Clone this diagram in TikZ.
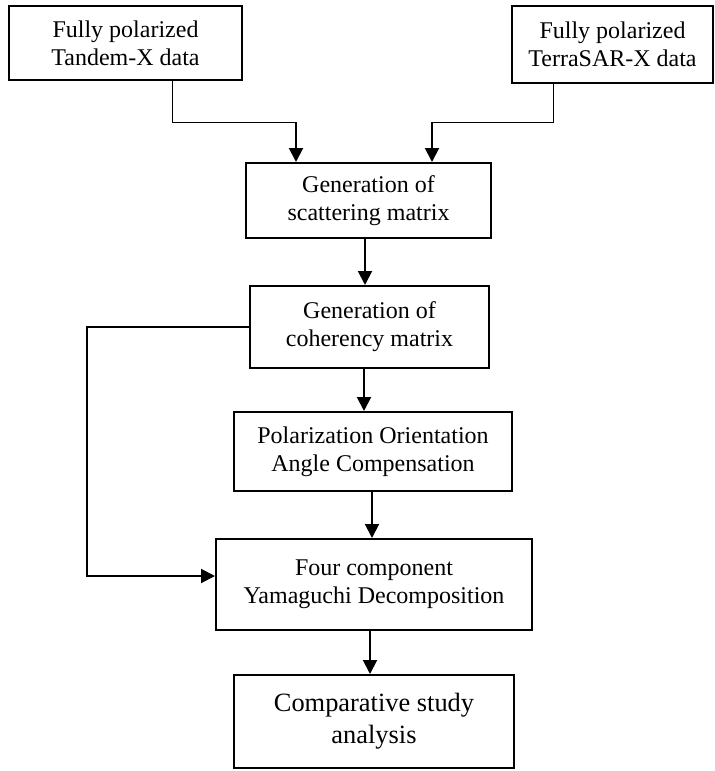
\documentclass[tikz,border=0pt]{standalone}
\usepackage{fontspec}
\setmainfont{Liberation Serif}
\usetikzlibrary{arrows.meta}
\tikzset{
  stepbox/.style={draw,line width=1pt,align=center,inner sep=2pt,
    font=\fontsize{12}{14}\selectfont},
  bigbox/.style={stepbox,font=\fontsize{13.2}{16}\selectfont},
  arr/.style={line width=1pt,-{Triangle[width=7pt,length=7pt]}},
  thinline/.style={line width=0.5pt}
}
\begin{document}
\begin{tikzpicture}[x=0.5pt,y=-0.5pt]
 \useasboundingbox (0,0) rectangle (715,771);
 % boxes
 \node[stepbox,minimum width=116.5pt,minimum height=37pt] (tdx) at (125.5,43) {Fully polarized\\Tandem-X data};
 \node[stepbox,minimum width=100.5pt,minimum height=38.5pt] (tsx) at (612.5,44.5) {Fully polarized\\TerraSAR-X data};
 \node[stepbox,minimum width=122.5pt,minimum height=37.5pt] (scat) at (368.5,200.5) {Generation of\\scattering matrix};
 \node[stepbox,minimum width=119.5pt,minimum height=41pt] (coh) at (369.5,327) {Generation of\\coherency matrix};
 \node[stepbox,minimum width=139pt,minimum height=39.5pt] (poa) at (373,451.5) {Polarization Orientation\\Angle Compensation};
 \node[stepbox,minimum width=158pt,minimum height=45.5pt] (yam) at (374,584.5) {Four component\\Yamaguchi Decomposition};
 \node[bigbox,minimum width=140pt,minimum height=46.5pt] (comp) at (374,721.5) {Comparative study\\analysis};
 % joints
 \coordinate (j1) at (296,122);
 \coordinate (j2) at (432,122);
 \coordinate (fb) at (87,0);
 % inputs
 \draw[thinline] ([xshift=23.25pt]tdx.south) |- (j1);
 \draw[arr] (j1) -- (j1 |- scat.north);
 \draw[thinline] ([xshift=-29.75pt]tsx.south) |- (j2);
 \draw[arr] (j2) -- (j2 |- scat.north);
 % main flow
 \draw[arr] ([xshift=-1.75pt]scat.south) -- ([xshift=-1.75pt]scat.south |- coh.north);
 \draw[arr] ([xshift=-2.75pt]coh.south) -- ([xshift=-2.75pt]coh.south |- poa.north);
 \draw[arr] ([xshift=-0.5pt]poa.south) -- ([xshift=-0.5pt]poa.south |- yam.north);
 \draw[arr] ([xshift=-2pt]yam.south) -- ([xshift=-2pt]yam.south |- comp.north);
 % bypass
 \draw[arr] (coh.west) -- (coh.west -| fb) |- ([yshift=4.25pt]yam.west);
\end{tikzpicture}
\end{document}
